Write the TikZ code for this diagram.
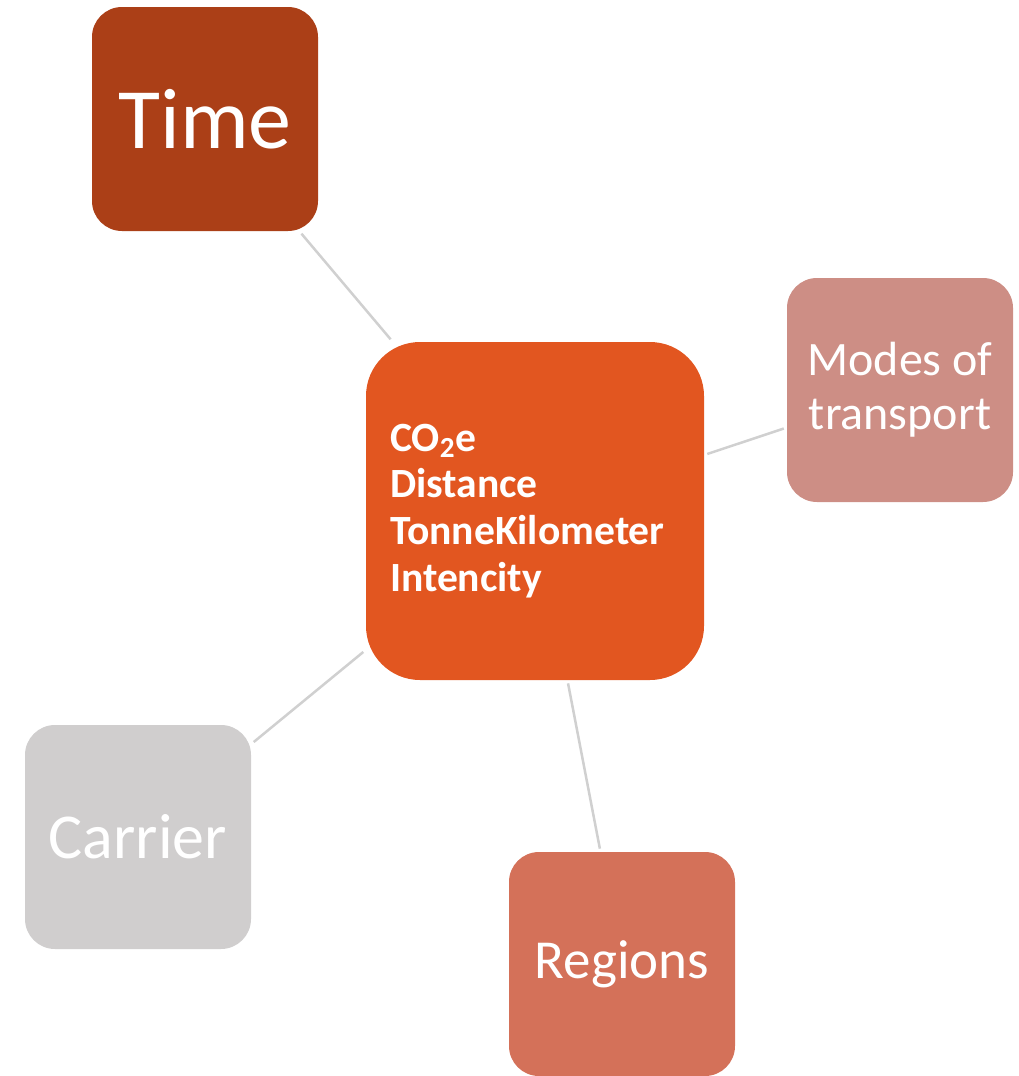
\documentclass[tikz,border=0pt]{standalone}
\usepackage{fontspec}
\setmainfont{Carlito}
\definecolor{hubcol}{HTML}{E25620}
\definecolor{timecol}{HTML}{AB3F17}
\definecolor{modecol}{HTML}{CD8E85}
\definecolor{carrcol}{HTML}{D0CECE}
\definecolor{regcol}{HTML}{D47159}
\definecolor{linkcol}{HTML}{D0D0D0}
\begin{document}
\begin{tikzpicture}[x=0.5pt,y=-0.5pt,
  main node/.style={rounded corners=15pt,inner sep=0pt,minimum width=113pt,
    minimum height=112pt,text=white,align=center},
  link/.style={draw=linkcol,line width=1.25pt,shorten >=1.5pt,shorten <=1.5pt}]

  \useasboundingbox (0,0) rectangle (1018,1076);

  \node[main node,fill=hubcol,minimum size=169pt,rounded corners=27pt,
    text width=145pt,align=left,
    font=\bfseries\fontsize{20.8}{23.4}\selectfont] (hub) at (535,511)
    {CO\textsubscript{2}e\\Distance\\TonneKilometer\\Intencity};

  \node[main node,fill=timecol,font=\fontsize{43}{50}\selectfont] (time) at (205,119) {Time};
  \node[main node,fill=modecol,font=\fontsize{24}{27}\selectfont] (modes) at (900,390) {Modes of\\transport};
  \node[main node,fill=carrcol,font=\fontsize{32}{38}\selectfont] (carrier) at (138,837) {Carrier};
  \node[main node,fill=regcol,font=\fontsize{27.5}{33}\selectfont] (regions) at (622,964) {Regions};

  \path (hub) edge[link] (time)
              edge[link] (modes)
              edge[link] (carrier)
              edge[link] (regions);
\end{tikzpicture}
\end{document}
